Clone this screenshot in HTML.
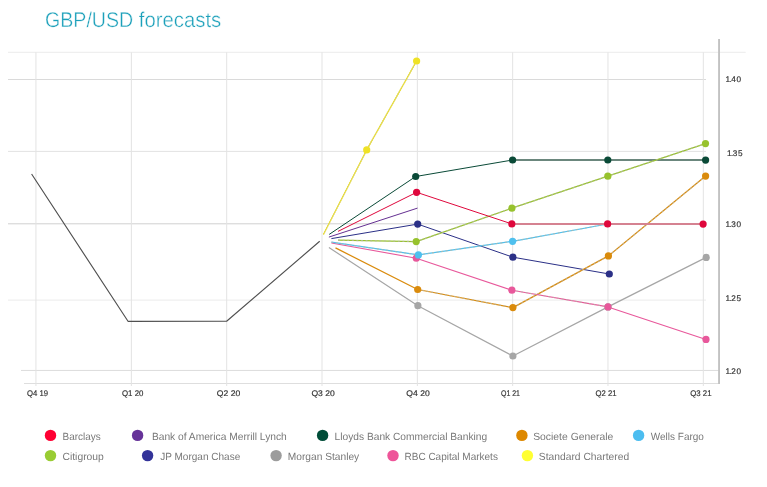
<!DOCTYPE html>
<html lang="en"><head><meta charset="utf-8"><title>GBP/USD forecasts</title>
<style>html,body{margin:0;padding:0;background:#fff;}body{width:767px;height:487px;overflow:hidden;}svg{display:block;}text{font-family:"Liberation Sans",sans-serif;text-rendering:geometricPrecision;}</style></head><body>
<svg width="767" height="487" viewBox="0 0 767 487">
<rect width="767" height="487" fill="#fff"/>
<text y="26.7" font-size="21.3" fill="#1ba0ba" stroke="#fff" stroke-width="0.4"><tspan x="45.0" textLength="88.2" lengthAdjust="spacingAndGlyphs">GBP/USD</tspan><tspan x="138.8" textLength="82.4" lengthAdjust="spacingAndGlyphs">forecasts</tspan></text>
<g fill="none" stroke-width="1">
<path d="M8 52.3H745.7" stroke="#ececec"/>
<path d="M8 79.5H706" stroke="#dadada"/>
<path d="M8 151.4H706" stroke="#e2e2e2"/>
<path d="M8 223.8H706" stroke="#d1d1d1"/>
<path d="M8 300.1H706" stroke="#ebebeb"/>
<path d="M21 370.45H719" stroke="#dcdcdc"/>
<path d="M24 383.5H719.5" stroke="#dedede"/>
<path d="M35.95 52.3V386" stroke="#e3e3e3"/>
<path d="M131.37 52.3V386" stroke="#e3e3e3"/>
<path d="M226.69 52.3V386" stroke="#e3e3e3"/>
<path d="M322.0 52.3V386" stroke="#e3e3e3"/>
<path d="M417.35 52.3V386" stroke="#e3e3e3"/>
<path d="M512.65 52.3V386" stroke="#e3e3e3"/>
<path d="M607.97 52.3V386" stroke="#e3e3e3"/>
<path d="M703.3 52.3V386" stroke="#e3e3e3"/>
<path d="M719.05 39V384" stroke="#c2c2c2" stroke-width="1.9"/>
</g>
<g font-size="8.2" fill="#333" stroke="#333" stroke-width="0.18">
<text x="725.5 729.4 731.2 736.4" y="82.4">1.40</text>
<text x="727.0 730.9 732.7 737.9" y="156.1">1.35</text>
<text x="725.5 729.4 731.2 736.4" y="227.0">1.30</text>
<text x="725.5 729.4 731.2 736.4" y="300.7">1.25</text>
<text x="725.5 729.4 731.2 736.4" y="373.9">1.20</text>
<text x="27" y="396.0" textLength="21.0" lengthAdjust="spacingAndGlyphs">Q4 19</text>
<text x="122" y="396.0" textLength="21.4" lengthAdjust="spacingAndGlyphs">Q1 20</text>
<text x="216.8" y="396.0" textLength="23.4" lengthAdjust="spacingAndGlyphs">Q2 20</text>
<text x="311.4" y="396.0" textLength="23.3" lengthAdjust="spacingAndGlyphs">Q3 20</text>
<text x="406.3" y="396.0" textLength="23.4" lengthAdjust="spacingAndGlyphs">Q4 20</text>
<text x="501" y="396.0" textLength="19.0" lengthAdjust="spacingAndGlyphs">Q1 21</text>
<text x="595.6" y="396.0" textLength="21.0" lengthAdjust="spacingAndGlyphs">Q2 21</text>
<text x="690.2" y="396.0" textLength="21.3" lengthAdjust="spacingAndGlyphs">Q3 21</text>
</g>
<g fill="none" stroke-linejoin="round">
<path d="M31.6 174 L128 321.3 L226.6 321.2 L319.7 241.3" stroke="#505050" stroke-width="1.15"/>
<path d="M323.4 234.4 L366.7 149.9 L416.6 61" stroke="#d6d07c" stroke-width="1.2"/>
<path d="M323.4 234.4 L366.7 149.9 L416.6 61" stroke="#efe226" stroke-width="1.3" stroke-dasharray="1.3 0.9"/>
<path d="M329.2 234.4 L415.7 176.5 L512.6 160" stroke="#0a4a37" stroke-width="1.0"/>
<path d="M512.6 160H705.6" stroke="#6b877d" stroke-width="2"/>
<path d="M328.9 247.5 L417.9 305.7 L512.9 356 L608 306.9 L706.2 257.4" stroke="#a6a6a6" stroke-width="1.2"/>
<path d="M328.9 237.1 L417.5 208.1" stroke="#653092" stroke-width="1.0"/>
<path d="M331.4 238.6 L417.7 224.1 L512.9 257.2 L609.3 274" stroke="#2b3087" stroke-width="1.0"/>
<path d="M338 240.2 L416.2 241.6 L511.9 208.2 L607.8 176.2 L705.5 143.6" stroke="#97c22d" stroke-width="1.25"/>
<path d="M338 240.2L416.2 241.6" stroke="#b9b9a8" stroke-opacity="0.7" stroke-width="1.25" stroke-dasharray="2 2.6"/>
<path d="M416.2 241.6L511.9 208.2" stroke="#b9b9a8" stroke-opacity="0.7" stroke-width="1.25" stroke-dasharray="2 2.6"/>
<path d="M511.9 208.2L607.8 176.2" stroke="#b9b9a8" stroke-opacity="0.7" stroke-width="1.25" stroke-dasharray="2 2.6"/>
<path d="M607.8 176.2L705.5 143.6" stroke="#b9b9a8" stroke-opacity="0.7" stroke-width="1.25" stroke-dasharray="2 2.6"/>
<path d="M335.5 247.9 L417.7 289.5 L512.9 307.6 L608.4 255.9 L705.6 176.1" stroke="#da8b0c" stroke-width="1.25"/>
<path d="M417.7 289.5L512.9 307.6" stroke="#b9b9a8" stroke-opacity="0.7" stroke-width="1.25" stroke-dasharray="2 2.6"/>
<path d="M512.9 307.6L608.4 255.9" stroke="#b9b9a8" stroke-opacity="0.7" stroke-width="1.25" stroke-dasharray="2 2.6"/>
<path d="M608.4 255.9L705.6 176.1" stroke="#b9b9a8" stroke-opacity="0.7" stroke-width="1.25" stroke-dasharray="2 2.6"/>
<path d="M331.4 243 L416.3 258.2 L511.9 290.2 L608 306.9 L706 339.4" stroke="#e8589b" stroke-width="1.1"/>
<path d="M511.9 290.2L608 306.9" stroke="#b9b9a8" stroke-opacity="0.7" stroke-width="1.1" stroke-dasharray="2 2.6"/>
<path d="M331.4 242.2 L418.4 254.9 L512.6 241.3 L607.6 224" stroke="#4fc0ee" stroke-width="1.2"/>
<path d="M331.4 242.2L418.4 254.9" stroke="#b9b9a8" stroke-opacity="0.7" stroke-width="1.2" stroke-dasharray="2 2.6"/>
<path d="M418.4 254.9L512.6 241.3" stroke="#b9b9a8" stroke-opacity="0.7" stroke-width="1.2" stroke-dasharray="2 2.6"/>
<path d="M512.6 241.3L607.6 224" stroke="#b9b9a8" stroke-opacity="0.7" stroke-width="1.2" stroke-dasharray="2 2.6"/>
<path d="M338 231.4 L416.6 192.3 L511.8 223.9" stroke="#df073c" stroke-width="1.0"/>
<path d="M511.8 224H703.1" stroke="#d58291" stroke-width="2"/>
</g>
<g>
<circle cx="366.7" cy="149.9" r="3.6" fill="#efe226"/>
<circle cx="416.6" cy="61" r="3.6" fill="#efe226"/>
<circle cx="415.7" cy="176.5" r="3.6" fill="#0a4a37"/>
<circle cx="512.6" cy="160" r="3.6" fill="#0a4a37"/>
<circle cx="607.8" cy="160" r="3.6" fill="#0a4a37"/>
<circle cx="705.6" cy="160.1" r="3.6" fill="#0a4a37"/>
<circle cx="417.9" cy="305.7" r="3.6" fill="#a6a6a6"/>
<circle cx="512.9" cy="356" r="3.6" fill="#a6a6a6"/>
<circle cx="608" cy="306.9" r="3.6" fill="#a6a6a6"/>
<circle cx="706.2" cy="257.4" r="3.6" fill="#a6a6a6"/>
<circle cx="417.7" cy="224.1" r="3.6" fill="#2b3087"/>
<circle cx="512.9" cy="257.2" r="3.6" fill="#2b3087"/>
<circle cx="609.3" cy="274" r="3.6" fill="#2b3087"/>
<circle cx="416.2" cy="241.6" r="3.6" fill="#97c22d"/>
<circle cx="511.9" cy="208.2" r="3.6" fill="#97c22d"/>
<circle cx="607.8" cy="176.2" r="3.6" fill="#97c22d"/>
<circle cx="705.5" cy="143.6" r="3.6" fill="#97c22d"/>
<circle cx="417.7" cy="289.5" r="3.6" fill="#da8b0c"/>
<circle cx="512.9" cy="307.6" r="3.6" fill="#da8b0c"/>
<circle cx="608.4" cy="255.9" r="3.6" fill="#da8b0c"/>
<circle cx="705.6" cy="176.1" r="3.6" fill="#da8b0c"/>
<circle cx="416.3" cy="258.2" r="3.6" fill="#e8589b"/>
<circle cx="511.9" cy="290.2" r="3.6" fill="#e8589b"/>
<circle cx="608" cy="306.9" r="3.6" fill="#e8589b"/>
<circle cx="706" cy="339.4" r="3.6" fill="#e8589b"/>
<circle cx="418.4" cy="254.9" r="3.6" fill="#4fc0ee"/>
<circle cx="512.6" cy="241.3" r="3.6" fill="#4fc0ee"/>
<circle cx="416.6" cy="192.3" r="3.6" fill="#df073c"/>
<circle cx="511.8" cy="223.9" r="3.6" fill="#df073c"/>
<circle cx="607.6" cy="223.9" r="3.6" fill="#df073c"/>
<circle cx="703.1" cy="224.1" r="3.6" fill="#df073c"/>
</g>
<g font-size="10.4" fill="#787878">
<circle cx="50.5" cy="435.4" r="5.7" fill="#ff0033"/>
<text x="62.5" y="440.4" textLength="38.3" lengthAdjust="spacingAndGlyphs">Barclays</text>
<circle cx="137.6" cy="435.4" r="5.7" fill="#663399"/>
<text x="151.9" y="440.4" textLength="134.9" lengthAdjust="spacingAndGlyphs">Bank of America Merrill Lynch</text>
<circle cx="322.6" cy="435.4" r="5.7" fill="#004d38"/>
<text x="334.6" y="440.4" textLength="152.5" lengthAdjust="spacingAndGlyphs">Lloyds Bank Commercial Banking</text>
<circle cx="521.9" cy="435.4" r="5.7" fill="#dd8800"/>
<text x="533.2" y="440.4" textLength="80.1" lengthAdjust="spacingAndGlyphs">Societe Generale</text>
<circle cx="638.6" cy="435.4" r="5.7" fill="#4cbdf0"/>
<text x="650.8" y="440.4" textLength="53.1" lengthAdjust="spacingAndGlyphs">Wells Fargo</text>
<circle cx="50.5" cy="455.6" r="5.7" fill="#99cc33"/>
<text x="62.5" y="460.0" textLength="41.3" lengthAdjust="spacingAndGlyphs">Citigroup</text>
<circle cx="147.6" cy="455.6" r="5.7" fill="#333399"/>
<text x="160.2" y="460.0" textLength="80.1" lengthAdjust="spacingAndGlyphs">JP Morgan Chase</text>
<circle cx="276.1" cy="455.6" r="5.7" fill="#9c9c9c"/>
<text x="287.8" y="460.0" textLength="71.4" lengthAdjust="spacingAndGlyphs">Morgan Stanley</text>
<circle cx="393" cy="455.6" r="5.7" fill="#ee5599"/>
<text x="404.5" y="460.0" textLength="93.4" lengthAdjust="spacingAndGlyphs">RBC Capital Markets</text>
<circle cx="527.4" cy="455.6" r="5.7" fill="#ffff33"/>
<text x="538.8" y="460.0" textLength="90.3" lengthAdjust="spacingAndGlyphs">Standard Chartered</text>
</g>
</svg></body></html>
